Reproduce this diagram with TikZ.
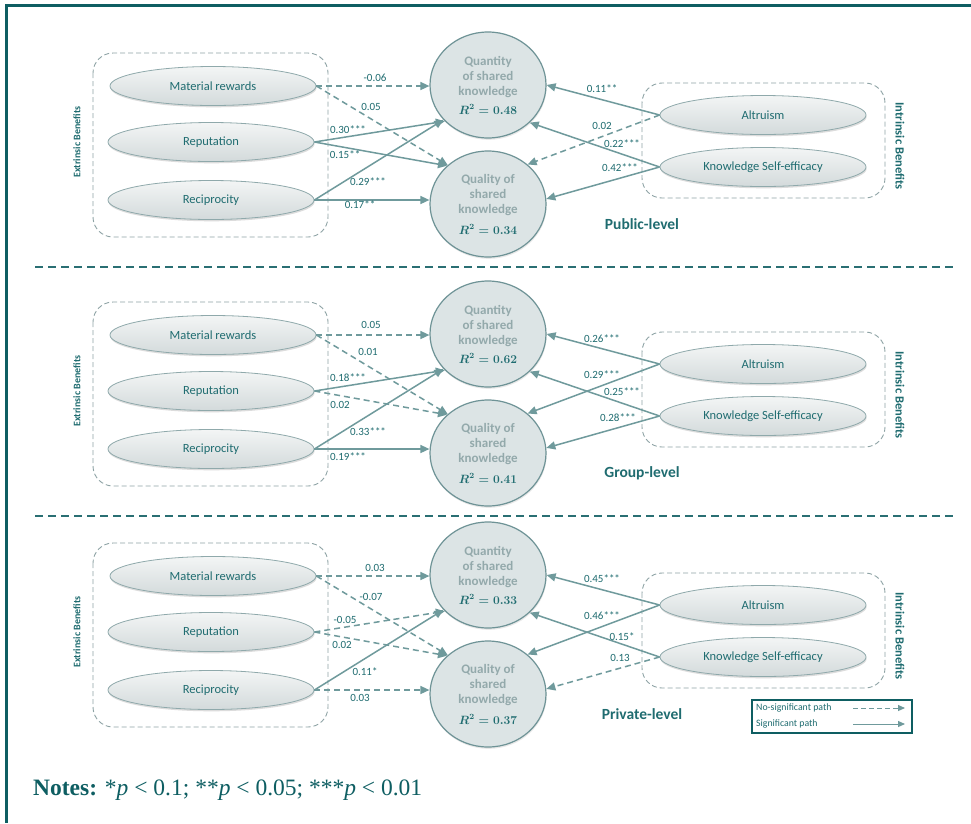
\documentclass[tikz,border=0pt]{standalone}
\usepackage{fontspec}
\setmainfont{Carlito}
\newfontfamily\timesf{Liberation Serif}
\usetikzlibrary{arrows.meta,shapes.geometric,shadows}

\definecolor{framec}{HTML}{0E5E62}
\definecolor{labc}{HTML}{1F6C70}
\definecolor{arrc}{HTML}{6F9A9C}
\definecolor{ellb}{HTML}{8FA9AB}
\definecolor{ellt}{HTML}{F3F5F5}
\definecolor{ellbot}{HTML}{D3DADB}
\definecolor{circb}{HTML}{6E9396}
\definecolor{circf}{HTML}{DCE4E5}
\definecolor{circt}{HTML}{93A9AB}
\definecolor{boxb}{HTML}{8EA3A5}
\definecolor{sepc}{HTML}{2A6F73}

\tikzset{
  construct/.style={ellipse, draw=ellb, line width=0.8pt, top color=ellt, bottom color=ellbot,
    minimum width=206pt, minimum height=39pt, inner sep=0pt, text=labc,
    font=\fontsize{12.5}{14}\selectfont,
    drop shadow={shadow xshift=0.6pt, shadow yshift=-1.8pt, opacity=0.3, fill=black!45}},
  outcome/.style={ellipse, draw=circb, line width=1.2pt, fill=circf,
    minimum width=116pt, minimum height=106pt, inner sep=0pt, align=center, text=circt,
    font=\bfseries\fontsize{13}{15}\selectfont,
    drop shadow={shadow xshift=0.6pt, shadow yshift=-1.8pt, opacity=0.2, fill=black!45}},
  grp/.style={draw=boxb, line width=0.9pt, rounded corners=20pt, dash pattern=on 5pt off 3pt},
  sig/.style={draw=arrc, line width=1.5pt, -{Triangle[length=9pt,width=8pt]}},
  nsig/.style={sig, dash pattern=on 6pt off 4pt},
  coef/.style={text=labc, font=\fontsize{11}{13}\selectfont, inner sep=1pt},
  benefit/.style={text=labc, font=\bfseries\fontsize{10}{12}\selectfont, inner sep=0pt},
  levelname/.style={text=labc, font=\bfseries\fontsize{15.5}{18}\selectfont, inner sep=0pt},
  legtext/.style={text=labc, font=\fontsize{9.8}{11}\selectfont, inner sep=0pt, anchor=west},
  sepline/.style={draw=sepc, line width=2pt, dash pattern=on 8pt off 5pt},
}

\newcommand\panelnodes[3]{%
  \draw[grp] (93,53) rectangle (328,237);
  \draw[grp] (642,83) rectangle (885,198);
  \node[construct] (MR) at (213,86) {Material rewards};
  \node[construct] (Rep) at (211,142) {Reputation};
  \node[construct] (Rec) at (211,200) {Reciprocity};
  \node[construct] (Alt) at (763,115) {Altruism};
  \node[construct] (KSE) at (763,167) {Knowledge Self-efficacy};
  \node[outcome] (Qn) at (488,85) {Quantity\\of shared\\knowledge\\[4pt]{\color{labc}\fontsize{11.5}{13}\selectfont\boldmath$R^2=#1$}};
  \node[outcome] (Ql) at (488,204) {Quality of\\shared\\knowledge\\[6pt]{\color{labc}\fontsize{11.5}{13}\selectfont\boldmath$R^2=#2$}};
  \node[benefit, rotate=90] (EB) at (77,142) {Extrinsic Benefits};
  \node[benefit, rotate=-90, font=\bfseries\fontsize{12.5}{14}\selectfont] (IB) at (900,146) {Intrinsic Benefits};
  \node[levelname] (LV) at (642,224) {#3};
}

\begin{document}
\begin{tikzpicture}[x=1pt,y=-1pt]
\fill[white] (0,0) rectangle (971,823);
\useasboundingbox (0,0) rectangle (971,823);

% frame
\draw[framec, line width=3.5pt] (971,5.5) -- (6.5,5.5) -- (6.5,823);

% separators
\coordinate (s1a) at (35,267); \coordinate (s1b) at (955,267);
\coordinate (s2a) at (35,516); \coordinate (s2b) at (955,516);
\draw[sepline] (s1a) -- (s1b);
\draw[sepline] (s2a) -- (s2b);

% ---------- Public level ----------
\begin{scope}[name prefix=pub-]
\panelnodes{0.48}{0.34}{Public-level}
\draw[nsig] (MR.east) -- (MR.east -| Qn.west);
\draw[nsig] (MR.east) -- (Ql.136);
\draw[sig] (Rep.east) -- (Qn.220);
\draw[sig] (Rep.east) -- (Ql.137);
\draw[sig] (Rec.east) -- (Qn.218);
\draw[sig] (Rec.east) -- (Rec.east -| Ql.west);
\draw[sig] (Alt.west) -- (Qn.east);
\draw[nsig] (Alt.west) -- (Ql.45);
\draw[sig] (KSE.west) -- (Qn.318);
\draw[sig] (KSE.west) -- (Ql.5);
\node[coef] (c1) at (375,78) {-0.06};
\node[coef] (c2) at (371,107) {0.05};
\node[coef] (c3) at (348,130) {0.30***};
\node[coef] (c4) at (345,155) {0.15**};
\node[coef] (c5) at (368,182) {0.29***};
\node[coef] (c6) at (360,205) {0.17**};
\node[coef] (c7) at (602,89) {0.11**};
\node[coef] (c8) at (602,126) {0.02};
\node[coef] (c9) at (622,144) {0.22***};
\node[coef] (c10) at (620,168) {0.42***};
\end{scope}

% ---------- Group level ----------
\begin{scope}[yshift=-249pt, name prefix=grp-]
\panelnodes{0.62}{0.41}{Group-level}
\draw[nsig] (MR.east) -- (MR.east -| Qn.west);
\draw[nsig] (MR.east) -- (Ql.136);
\draw[sig] (Rep.east) -- (Qn.220);
\draw[nsig] (Rep.east) -- (Ql.137);
\draw[sig] (Rec.east) -- (Qn.218);
\draw[sig] (Rec.east) -- (Rec.east -| Ql.west);
\draw[sig] (Alt.west) -- (Qn.east);
\draw[sig] (Alt.west) -- (Ql.45);
\draw[sig] (KSE.west) -- (Qn.318);
\draw[sig] (KSE.west) -- (Ql.5);
\node[coef] (c1) at (371,76) {0.05};
\node[coef] (c2) at (368,103) {0.01};
\node[coef] (c3) at (348,129) {0.18***};
\node[coef] (c4) at (340,156) {0.02};
\node[coef] (c5) at (368,183) {0.33***};
\node[coef] (c6) at (348,208) {0.19***};
\node[coef] (c7) at (602,90) {0.26***};
\node[coef] (c8) at (602,126) {0.29***};
\node[coef] (c9) at (622,143) {0.25***};
\node[coef] (c10) at (618,169) {0.28***};
\end{scope}

% ---------- Private level ----------
\begin{scope}[yshift=-490pt, name prefix=prv-]
\panelnodes{0.33}{0.37}{Private-level}
\draw[nsig] (MR.east) -- (MR.east -| Qn.west);
\draw[nsig] (MR.east) -- (Ql.136);
\draw[nsig] (Rep.east) -- (Qn.220);
\draw[nsig] (Rep.east) -- (Ql.137);
\draw[sig] (Rec.east) -- (Qn.218);
\draw[nsig] (Rec.east) -- (Rec.east -| Ql.west);
\draw[sig] (Alt.west) -- (Qn.east);
\draw[sig] (Alt.west) -- (Ql.45);
\draw[sig] (KSE.west) -- (Qn.318);
\draw[nsig] (KSE.west) -- (Ql.5);
\node[coef] (c1) at (375,78) {0.03};
\node[coef] (c2) at (371,107) {-0.07};
\node[coef] (c3) at (345,130) {-0.05};
\node[coef] (c4) at (342,155) {0.02};
\node[coef] (c5) at (365,182) {0.11*};
\node[coef] (c6) at (360,208) {0.03};
\node[coef] (c7) at (602,89) {0.45***};
\node[coef] (c8) at (602,126) {0.46***};
\node[coef] (c9) at (622,147) {0.15*};
\node[coef] (c10) at (620,168) {0.13};
\end{scope}

% legend
\draw[framec, line width=1.2pt] (752,700) rectangle (912,733);
\node[legtext] (lgn) at (756,708) {No-significant path};
\node[legtext] (lgs) at (756,724) {Significant path};
\coordinate (ln1) at (853,708); \coordinate (ln2) at (905,708);
\coordinate (ls1) at (853,724); \coordinate (ls2) at (905,724);
\draw[nsig, line width=1pt, dash pattern=on 5pt off 3pt, -{Triangle[length=7pt,width=6pt]}] (ln1) -- (ln2);
\draw[sig, line width=1pt, -{Triangle[length=7pt,width=6pt]}] (ls1) -- (ls2);

% notes
\node[anchor=base west, inner sep=0pt, text=framec, font=\timesf\fontsize{23.5}{26}\selectfont] (notes) at (33,795)
  {\textbf{Notes:} *\textit{p} < 0.1; **\textit{p} < 0.05; ***\textit{p} < 0.01};
\end{tikzpicture}
\end{document}
